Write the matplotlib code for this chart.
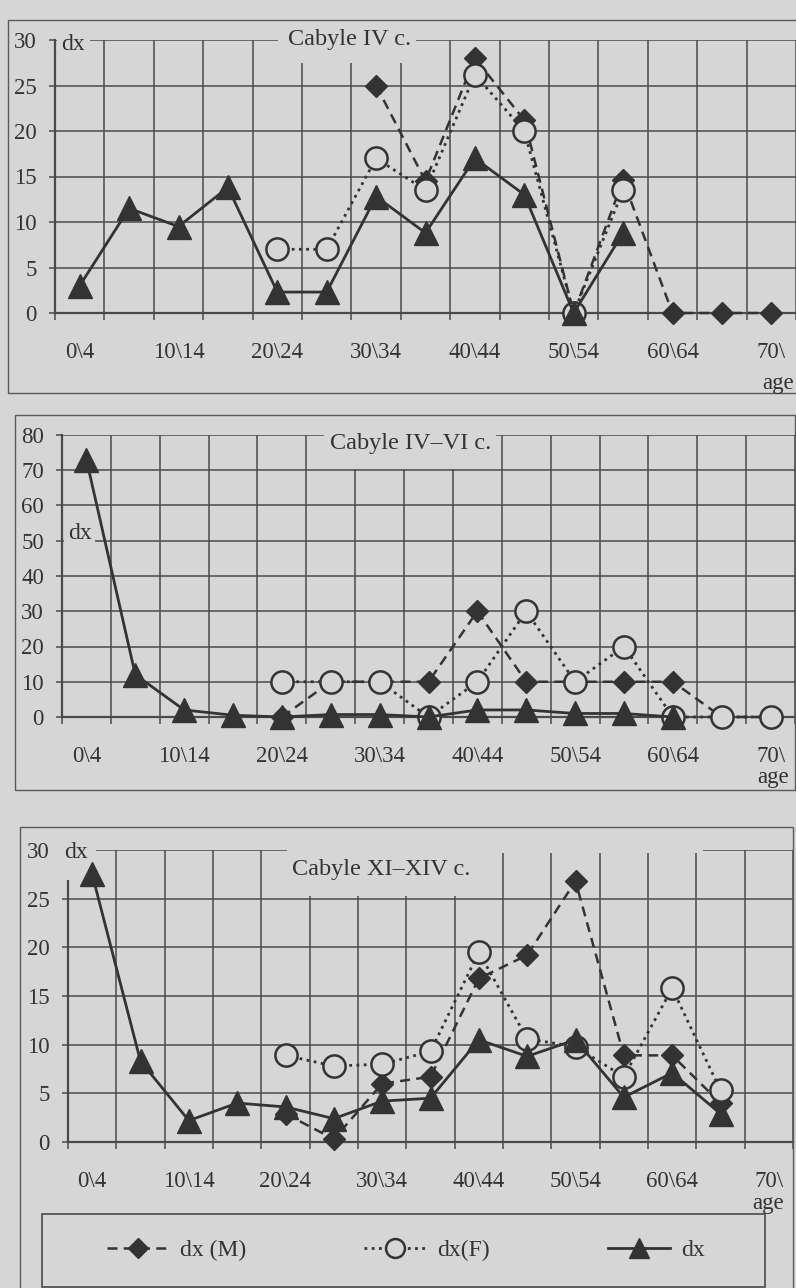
import numpy as np
import matplotlib
matplotlib.use("Agg")
import matplotlib.pyplot as plt
from matplotlib.patches import Rectangle

nan = np.nan

# Age groups (five-year classes) shared by the three panels
age_groups = ["0\\4", "5\\9", "10\\14", "15\\19", "20\\24", "25\\29", "30\\34",
              "35\\39", "40\\44", "45\\49", "50\\54", "55\\59", "60\\64",
              "65\\69", "70\\"]

# Cabyle IV c.
dx_m_iv = [nan, nan, nan, nan, nan, nan, 25, 14.5, 28, 21.2, 0, 14.6, 0, 0, 0]
dx_f_iv = [nan, nan, nan, nan, 7, 7, 17, 13.5, 26.2, 20, 0, 13.5, nan, nan, nan]
dx_iv = [3, 11.5, 9.5, 13.8, 2.3, 2.3, 12.8, 8.8, 17, 13, 0, 8.8, nan, nan, nan]

# Cabyle IV-VI c.
dx_m_iv_vi = [nan, nan, nan, nan, 0, 10, 10, 10, 30, 10, 10, 10, 10, 0, 0]
dx_f_iv_vi = [nan, nan, nan, nan, 10, 10, 10, 0, 10, 30, 10, 20, 0, 0, 0]
dx_iv_vi = [73, 12, 2, 0.5, 0, 0.7, 0.7, 0, 2, 2, 1, 1, 0, nan, nan]

# Cabyle XI-XIV c.
dx_m_xi_xiv = [nan, nan, nan, nan, 2.9, 0.3, 6.0, 6.7, 16.8, 19.2, 26.8, 8.9, 8.9, 4.0, nan]
dx_f_xi_xiv = [nan, nan, nan, nan, 8.9, 7.8, 8.0, 9.3, 19.5, 10.6, 9.8, 6.7, 15.8, 5.3, nan]
dx_xi_xiv = [27.5, 8.3, 2.2, 4.0, 3.6, 2.4, 4.2, 4.5, 10.5, 8.8, 10.5, 4.6, 7.1, 2.9, nan]

W, H, DPI = 796, 1288, 100
BG = "#d6d6d6"
INK = "#333333"
GRID = "#4a4a4a"

plt.rcParams["font.family"] = ["Liberation Serif", "DejaVu Serif"]
plt.rcParams["text.color"] = INK

fig = plt.figure(figsize=(W / DPI, H / DPI), dpi=DPI, facecolor=BG)


def fx(x):
    return x / W


def fy(y):
    return 1 - y / H


def fig_rect(x0, y0, x1, y1, **kw):
    return Rectangle((fx(x0), fy(y1)), (x1 - x0) / W, (y1 - y0) / H,
                     transform=fig.transFigure, **kw)


def panel(frame, left, right, y_top, y_zero, cw, ymax, ystep,
          m, f, d, title, title_boxes, title_xy, dx_box, dx_xy, age_xy):
    # outer frame of the panel
    fig.add_artist(fig_rect(*frame, fill=False, ec="#5a5a5a", lw=1.0, zorder=0.2))

    ax = fig.add_axes([fx(left), fy(y_zero), (right - left) / W, (y_zero - y_top) / H])
    ax.set_facecolor("none")
    ax.set_axisbelow(True)
    x = np.arange(len(age_groups))
    ax.set_xlim(-0.5, -0.5 + (right - left) / cw)
    ax.set_ylim(0, ymax)

    ax.set_xticks(x[::2])
    ax.set_xticklabels(age_groups[::2])
    ax.set_xticks(np.arange(-0.5, len(age_groups) + 0.5, 1), minor=True)
    ax.set_yticks(np.arange(0, ymax + 0.1, ystep))
    ax.tick_params(axis="x", which="major", length=0, pad=21, labelsize=16.5,
                   labelcolor=INK)
    ax.tick_params(axis="x", which="minor", length=5, width=1.1, color=GRID,
                   direction="out")
    ax.tick_params(axis="y", length=4.5, width=1.1, color=GRID, pad=8.5,
                   labelsize=16.5, labelcolor=INK)
    ax.grid(which="minor", axis="x", color=GRID, lw=1.1)
    ax.grid(which="major", axis="y", color=GRID, lw=1.1)
    for side in ("top", "right"):
        ax.spines[side].set_visible(False)
    for side in ("left", "bottom"):
        ax.spines[side].set_color(GRID)
        ax.spines[side].set_linewidth(1.6)

    # openings in the grid for the title and the "dx" label
    for box in title_boxes:
        ax.add_patch(fig_rect(*box, fc=BG, ec="none", zorder=2.6, clip_on=False))
    ax.add_patch(fig_rect(*dx_box, fc=BG, ec="none", zorder=2.6, clip_on=False))

    hm, = ax.plot(x, m, ls=(0, (4, 2.5)), lw=1.8, color=INK, marker="D", ms=11.5,
                  mfc=INK, mec=INK, zorder=3, clip_on=False, label="dx (M)")
    hf, = ax.plot(x, f, ls=(0, (1, 1.6)), lw=2.0, color=INK, marker="o", ms=16,
                  mfc=BG, mec=INK, mew=1.8, zorder=3.1, clip_on=False, label="dx(F)")
    hd, = ax.plot(x, d, ls="-", lw=2.0, color=INK, marker="^", ms=17,
                  mfc=INK, mec=INK, zorder=3.2, clip_on=False, label="dx")

    fig.text(fx(title_xy[0]), fy(title_xy[1]), title, ha="left", va="center",
             fontsize=17.5, color=INK, zorder=5)
    fig.text(fx(dx_xy[0]), fy(dx_xy[1]), "dx", ha="center", va="center",
             fontsize=17, color=INK, zorder=5)
    fig.text(fx(age_xy[0]), fy(age_xy[1]), "age", ha="center", va="center",
             fontsize=16.5, color=INK, zorder=5)
    return hm, hf, hd


panel(frame=(8, 20, 820, 393), left=55, right=796, y_top=40, y_zero=313, cw=49.9,
      ymax=30, ystep=5, m=dx_m_iv, f=dx_f_iv, d=dx_iv, title="Cabyle IV c.",
      title_boxes=[(278, 25, 416, 63)], title_xy=(288, 39),
      dx_box=(57, 34, 90, 54), dx_xy=(73, 44), age_xy=(778, 383))

panel(frame=(15, 415, 795, 790), left=62, right=795, y_top=435, y_zero=717, cw=49.2,
      ymax=80, ystep=10, m=dx_m_iv_vi, f=dx_f_iv_vi, d=dx_iv_vi,
      title="Cabyle IV\u2013VI c.",
      title_boxes=[(324, 425, 496, 469)], title_xy=(330, 444),
      dx_box=(64, 521, 95, 547), dx_xy=(80, 533), age_xy=(773, 777))

handles = panel(frame=(20, 827, 793, 1300), left=68, right=793, y_top=850, y_zero=1142,
                cw=48.6, ymax=30, ystep=5, m=dx_m_xi_xiv, f=dx_f_xi_xiv, d=dx_xi_xiv,
                title="Cabyle XI\u2013XIV c.",
                title_boxes=[(287, 842, 500, 896), (500, 848, 703, 852.5)],
                title_xy=(292, 870),
                dx_box=(58, 840, 96, 880), dx_xy=(76, 853), age_xy=(768, 1203))

# legend box at the foot of the last panel
fig.add_artist(fig_rect(42, 1214, 765, 1287, fill=False, ec="#4a4a4a", lw=1.2, zorder=1))
fig.legend(handles, [h.get_label() for h in handles], loc="center",
           bbox_to_anchor=(fx(406), fy(1250)), ncol=3, frameon=False,
           handlelength=2.6, handletextpad=0.5, columnspacing=5.0,
           fontsize=17, markerscale=0.85)

fig.savefig("out.png", dpi=DPI, facecolor=BG)
